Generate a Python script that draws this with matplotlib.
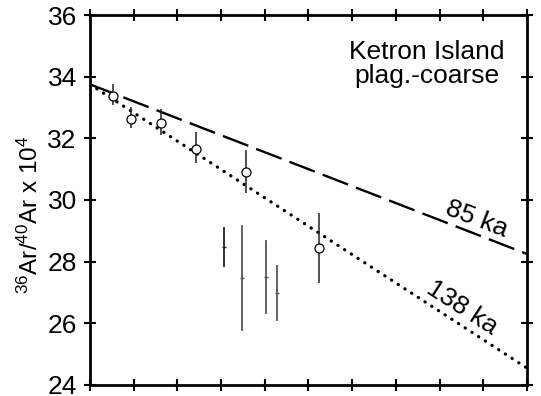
import matplotlib
matplotlib.use('Agg')
import matplotlib.pyplot as plt
import numpy as np

plt.rcParams['font.family'] = ['Liberation Sans', 'DejaVu Sans']
plt.rcParams['mathtext.fontset'] = 'custom'
plt.rcParams['mathtext.rm'] = 'Liberation Sans'
plt.rcParams['mathtext.default'] = 'rm'

# plagioclase step data (open circles)
pt_x = [0.53, 0.93, 1.62, 2.43, 3.56, 5.23]
pt_y = [33.37, 32.63, 32.51, 31.64, 30.90, 28.45]
pt_lo = [33.08, 32.33, 32.11, 31.19, 30.23, 27.32]
pt_hi = [33.76, 33.02, 32.94, 32.20, 31.62, 29.59]

# steps without symbols (bars only)
bar_x = [3.07, 3.48, 4.03, 4.29]
bar_y = [28.48, 27.46, 27.49, 26.97]
bar_lo = [27.87, 25.77, 26.34, 26.11]
bar_hi = [29.10, 29.16, 28.67, 27.86]
bar_colors = ['#222222', '#555555', '#555555', '#555555']

# reference isochrons
line_x = [0.0, 10.0]
iso85_y = [33.75, 28.25]
iso138_y = [33.75, 24.55]

fig = plt.figure(figsize=(5.41, 3.96), dpi=100)
ax = fig.add_axes([0.1664, 0.0278, 0.8076, 0.9343])

ax.plot(line_x, iso85_y, color='k', lw=1.7, dashes=(11.5, 3.6), dash_capstyle='butt')
ax.plot(line_x, iso138_y, color='k', lw=2.3, linestyle=(0, (0.1, 2.4)),
        dash_capstyle='round')

for x, y, lo, hi, c in zip(bar_x, bar_y, bar_lo, bar_hi, bar_colors):
    ax.plot([x, x], [lo, hi], color=c, lw=1.3)
    ax.plot([x], [y], marker='_', color=c, ms=3, mew=1.0)

pt_x = np.array(pt_x)
pt_y = np.array(pt_y)
yerr = [pt_y - np.array(pt_lo), np.array(pt_hi) - pt_y]
ax.errorbar(pt_x, pt_y, yerr=yerr, fmt='o', ms=6.5, mfc='white', mec='k',
            mew=0.9, ecolor='#222222', elinewidth=1.1, capsize=0, zorder=5)

ax.text(7.7, 34.4, 'Ketron Island\nplag.-coarse', ha='center', va='center',
        fontsize=19, linespacing=1.0)
ax.text(8.85, 29.38, '85 ka', rotation=-21, ha='center', va='center',
        fontsize=19)
ax.text(8.52, 26.5, '138 ka', rotation=-33, ha='center', va='center',
        fontsize=19)

ax.set_xlim(0, 10)
ax.set_ylim(24, 36)
ax.set_xticks(np.arange(0, 11, 1))
ax.set_xticklabels([])
ax.set_yticks(np.arange(24, 37, 2))
ax.tick_params(axis='both', direction='inout', length=9, width=1.5,
               top=True, right=True, labelsize=19, pad=5)
for s in ax.spines.values():
    s.set_linewidth(2.0)
ax.set_ylabel(r'$^{36}$Ar/$^{40}$Ar x 10$^{4}$', fontsize=17.5)
ax.yaxis.set_label_coords(-0.108, 0.46)

fig.savefig('out.png', dpi=100)
